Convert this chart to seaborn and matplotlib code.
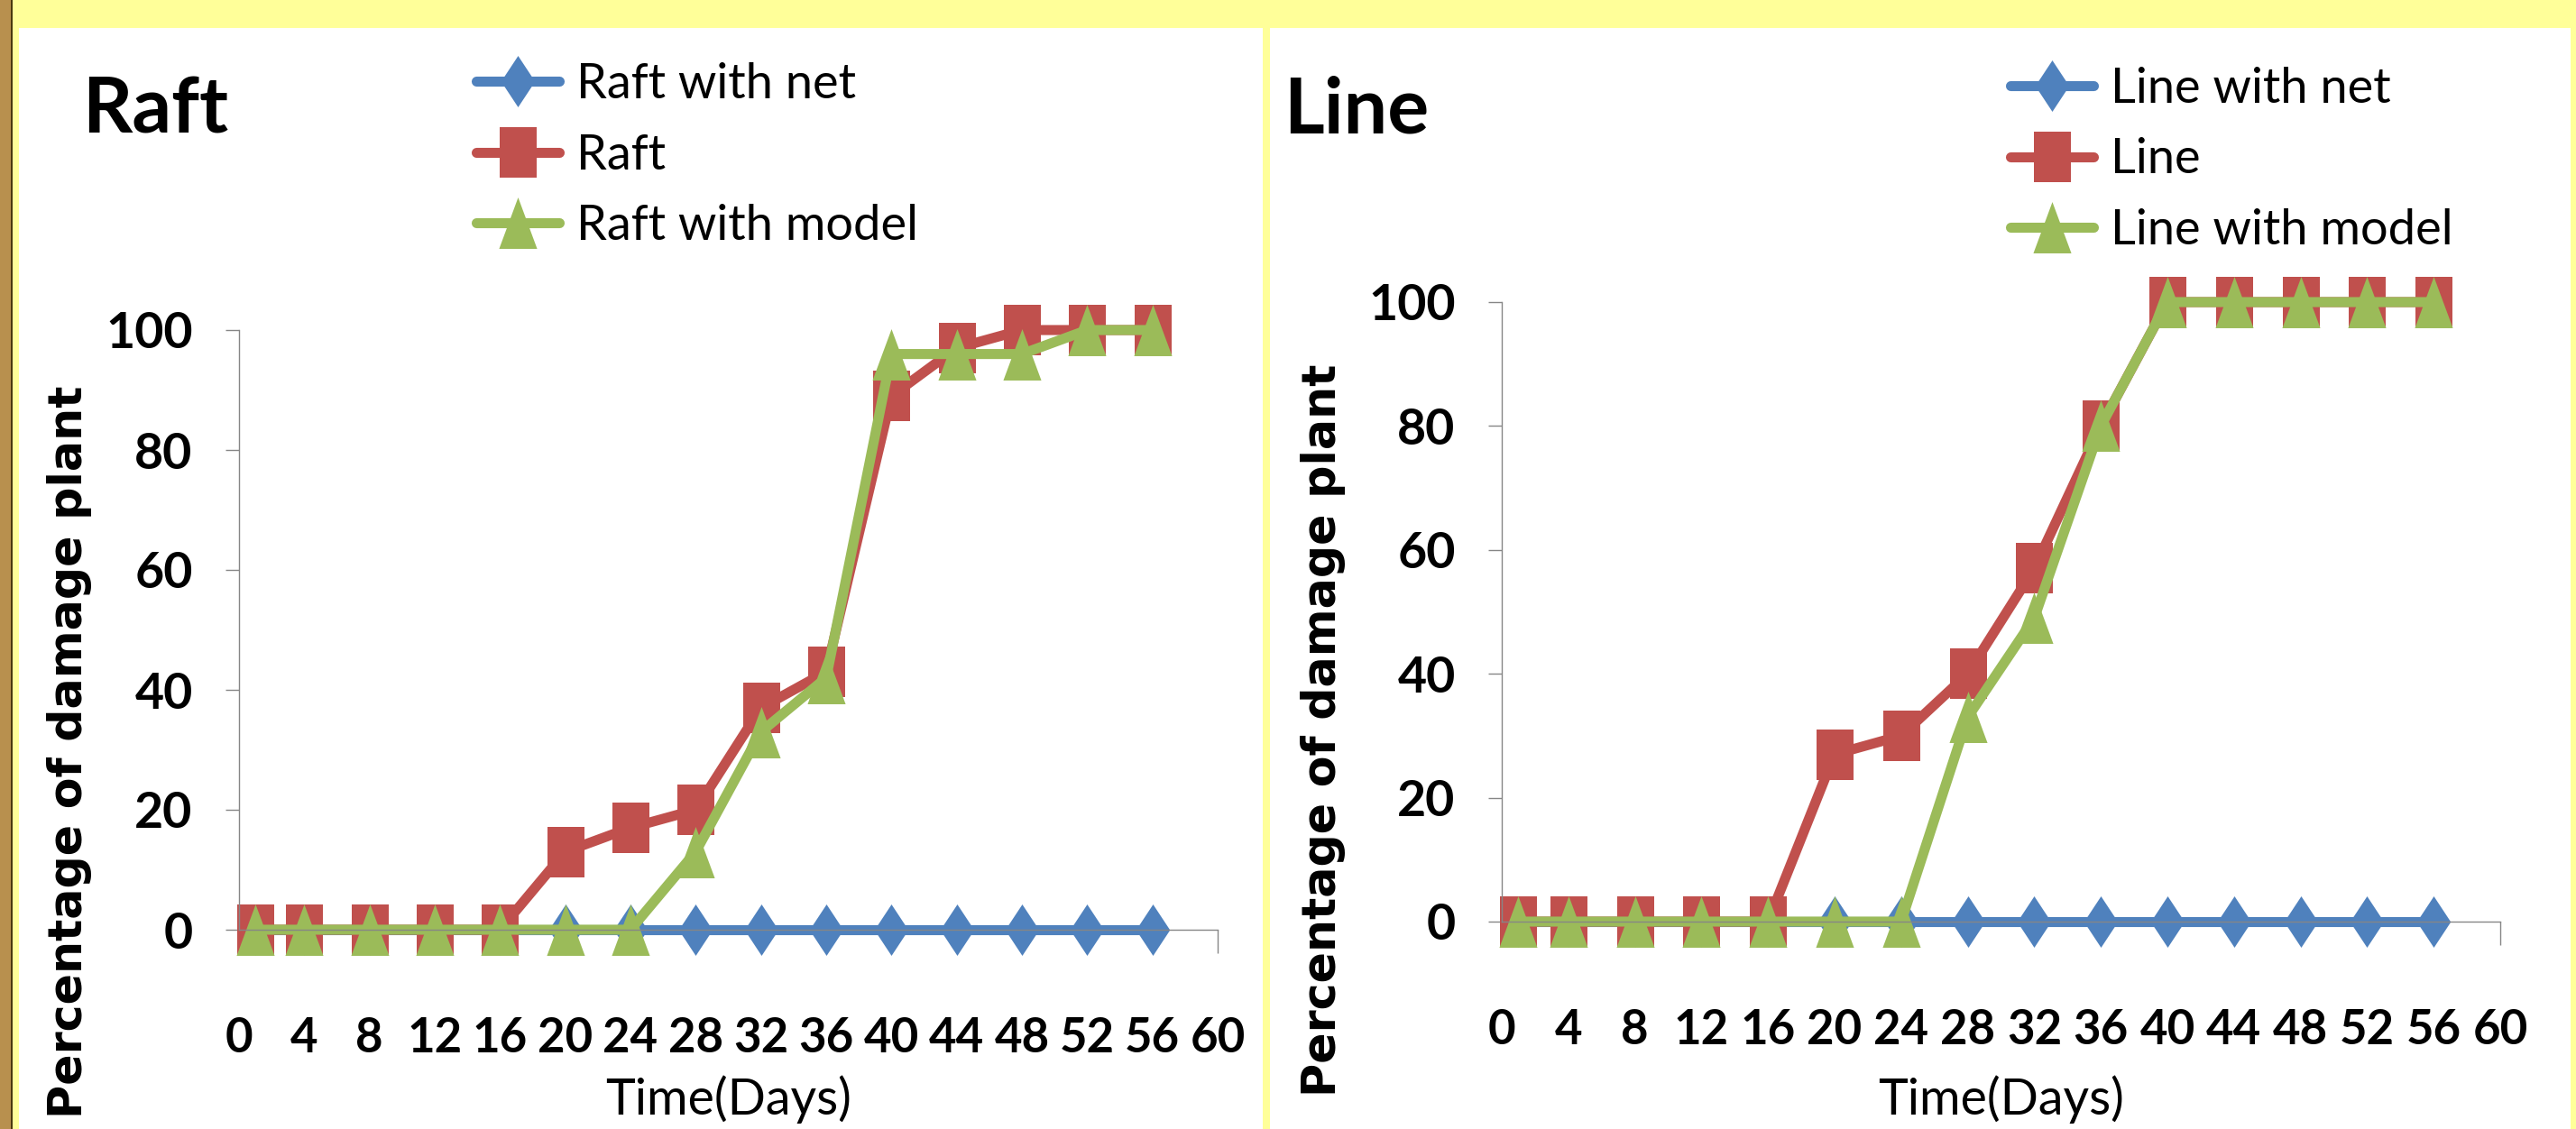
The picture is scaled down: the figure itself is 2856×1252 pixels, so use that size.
import matplotlib
matplotlib.use("Agg")
import matplotlib.pyplot as plt
from matplotlib import font_manager as fm
from matplotlib.patches import Rectangle
import seaborn as sns

# -------- DATA --------
days = [1, 4, 8, 12, 16, 20, 24, 28, 32, 36, 40, 44, 48, 52, 56]

raft_net = [0, 0, 0, 0, 0, 0, 0, 0, 0, 0, 0, 0, 0, 0, 0]
raft = [0, 0, 0, 0, 0, 13, 17, 20, 37, 43, 89, 97, 100, 100, 100]
raft_model = [0, 0, 0, 0, 0, 0, 0, 13, 33, 42, 96, 96, 96, 100, 100]

line_net = [0, 0, 0, 0, 0, 0, 0, 0, 0, 0, 0, 0, 0, 0, 0]
line = [0, 0, 0, 0, 0, 27, 30, 40, 57, 80, 100, 100, 100, 100, 100]
line_model = [0, 0, 0, 0, 0, 0, 0, 33, 49, 80, 100, 100, 100, 100, 100]

x_ticks = list(range(0, 61, 4))
y_ticks = [0, 20, 40, 60, 80, 100]

# -------- STYLE --------
sns.set_theme(style="white")


def pick(names):
    for n in names:
        try:
            fm.findfont(fm.FontProperties(family=n), fallback_to_default=False)
            return n
        except Exception:
            pass
    return "DejaVu Sans"


NARROW = pick(["Liberation Sans Narrow", "DejaVu Sans Condensed", "Lato"])
plt.rcParams["font.family"] = [NARROW, "DejaVu Sans"]
plt.rcParams["text.color"] = "black"
plt.rcParams["axes.labelcolor"] = "black"

BLUE, RED, GREEN = "#4F81BD", "#C0504D", "#9BBB59"
YELLOW = "#FFFF99"
GREY = "#868686"

# tall-ish marker shapes (the original chart is squeezed horizontally)
DIAMOND = [(0, -0.5), (0.33, 0), (0, 0.5), (-0.33, 0), (0, -0.5)]
SQUARE = [(-0.36, -0.5), (0.36, -0.5), (0.36, 0.5), (-0.36, 0.5), (-0.36, -0.5)]
TRIANGLE = [(-0.37, -0.5), (0.37, -0.5), (0, 0.5), (-0.37, -0.5)]

W, H = 2856, 1252
fig = plt.figure(figsize=(W / 100, H / 100), dpi=100)
fig.patch.set_facecolor(YELLOW)

# panel backgrounds / border
fig.add_artist(Rectangle((0, 0), 12 / W, 1, transform=fig.transFigure,
                         facecolor="#B8904E", edgecolor="none", zorder=0))
fig.add_artist(Rectangle((12 / W, 0), 2 / W, 1, transform=fig.transFigure,
                         facecolor="#4A3A10", edgecolor="none", zorder=0))
fig.add_artist(Rectangle((21 / W, 0), (1400 - 21) / W, 1 - 31 / H, transform=fig.transFigure,
                         facecolor="white", edgecolor="none", zorder=0))
fig.add_artist(Rectangle((1408 / W, 0), (2850 - 1408) / W, 1 - 31 / H, transform=fig.transFigure,
                         facecolor="white", edgecolor="none", zorder=0))


def panel(rect, series, title, title_x, legend_xy, ylab_xy):
    ax = fig.add_axes(rect)
    ax.set_facecolor("none")
    for vals, name, color, mk in series:
        sns.lineplot(x=days, y=vals, ax=ax, color=color, linewidth=8, marker=mk,
                     markersize=41, markeredgewidth=0, label=name, clip_on=False,
                     solid_capstyle="round")
    ax.set_xlim(0, 60)
    ax.set_ylim(0, 100)
    ax.set_xticks(x_ticks)
    ax.set_yticks(y_ticks)
    ax.set_xticklabels([str(t) for t in x_ticks], fontsize=38, fontweight="bold")
    ax.set_yticklabels([str(t) for t in y_ticks], fontsize=40, fontweight="bold")
    ax.tick_params(axis="y", direction="out", length=11, width=1, color=GREY,
                   labelcolor="black", pad=26, left=True)
    ax.tick_params(axis="x", direction="out", length=19, width=1, color=GREY,
                   labelcolor="black", pad=50, bottom=True)
    for s in ["top", "right"]:
        ax.spines[s].set_visible(False)
    for s in ["left", "bottom"]:
        ax.spines[s].set_color(GREY)
        ax.spines[s].set_linewidth(1)
    ax.set_xlabel("Time(Days)", fontsize=40)
    xc = rect[0] + rect[2] / 2
    ax.xaxis.set_label_coords(xc, 1 - 1192 / H, transform=fig.transFigure)
    ax.set_ylabel("")
    fig.text(ylab_xy[0] / W, 1 - ylab_xy[1] / H, "Percentage of damage plant",
             rotation=90, ha="center", va="bottom", fontsize=36.5,
             fontweight="bold", family="DejaVu Sans")
    fig.text(title_x / W, 1 - 147 / H, title, ha="left", va="baseline",
             fontsize=62, fontweight="bold")
    ax.legend(loc="center left", bbox_to_anchor=(legend_xy[0] / W, 1 - legend_xy[1] / H),
              bbox_transform=fig.transFigure, frameon=False, fontsize=39,
              borderpad=0, borderaxespad=0, handlelength=1.7, handletextpad=0.35,
              labelspacing=0.55)
    return ax


panel([265 / W, 1 - 1031 / H, 1085 / W, 665 / H],
      [(raft_net, "Raft with net", BLUE, DIAMOND),
       (raft, "Raft", RED, SQUARE),
       (raft_model, "Raft with model", GREEN, TRIANGLE)],
      "Raft", 91, (528, 172), (77, 1240))

panel([1665 / W, 1 - 1022 / H, 1107 / W, 687 / H],
      [(line_net, "Line with net", BLUE, DIAMOND),
       (line, "Line", RED, SQUARE),
       (line_model, "Line with model", GREEN, TRIANGLE)],
      "Line", 1423, (2229, 177), (1467, 1216))

fig.savefig("out.png", dpi=100, facecolor=fig.get_facecolor())
